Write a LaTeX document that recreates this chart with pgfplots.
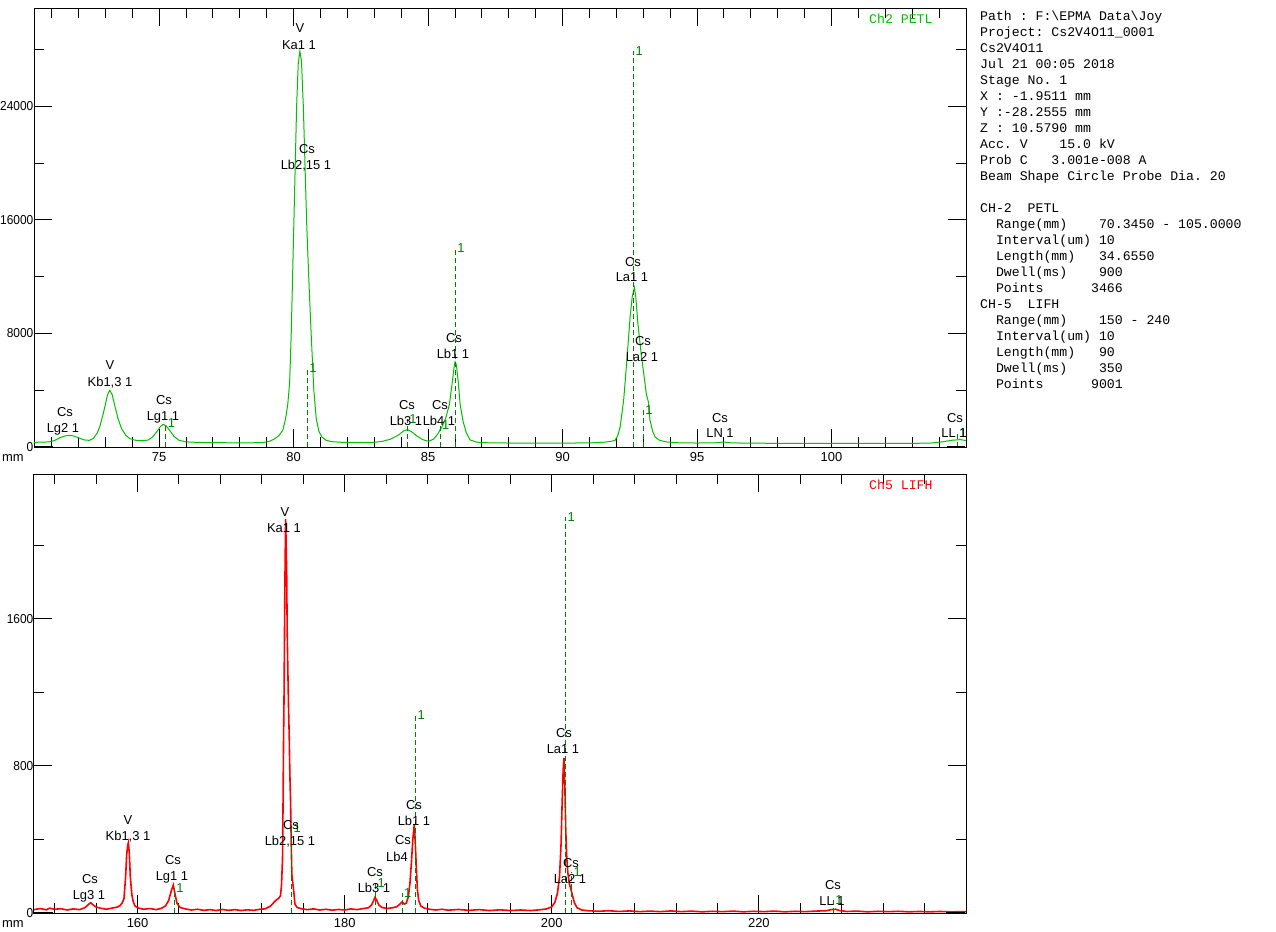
\documentclass[border=0pt]{standalone}
\usepackage{fontspec}
\setmainfont{Liberation Sans}
\newfontfamily\monofont{Liberation Mono}
\usepackage{pgfplots}
\pgfplotsset{compat=1.18}

\definecolor{spec}{HTML}{00C000}
\definecolor{klm}{HTML}{008000}
\definecolor{specred}{HTML}{FF0000}

\newcommand\lbl{\fontsize{13}{15}\selectfont}
\newcommand\mtxt{\monofont\fontsize{13.25}{16}\selectfont\frenchspacing}

\pgfplotsset{
  epma/.style={
    scale only axis, width=932bp, height=439bp,
    axis line style={line width=1bp, black},
    tick align=inside,
    major tick length=18bp, minor tick length=10bp,
    tick style={black, line width=1bp},
    ticklabel style={font=\lbl, text=black},
    yticklabel style={inner sep=0.5bp},
    yticklabel={\scalebox{0.92}[1]{\pgfmathprintnumber{\tick}}},
    xticklabel style={yshift=-2bp},
    scaled y ticks=false, scaled x ticks=false,
    /pgf/number format/1000 sep={},
    /pgf/number format/assume math mode=true,
  },
  klmlines/.style={ycomb, color=klm, draw=klm, line width=1bp, dash pattern=on 5bp off 3bp,
    nodes near coords={1}, nodes near coords align={right},
    every node near coord/.append style={font=\lbl, text=klm, inner sep=1.5bp}},
}

% peak label: centre x, centre y (pixels), text
\newcommand\pl[3]{\node[font=\lbl, inner sep=0pt, anchor=base] at (#1,#2+4.7) {#3};}
\newcommand\ml[2]{\node[font=\mtxt, inner sep=0pt, anchor=base west] at (980,16*#1+4) {#2};}

\begin{document}
\begin{tikzpicture}
\fill[white] (0,0) rectangle (1276bp,-932bp);
\path[use as bounding box] (0,0) rectangle (1276bp,-932bp);

% ---- Ch2 PETL ----
\begin{axis}[epma, at={(34bp,-447bp)}, anchor=south west,
  xmin=70.345, xmax=105, ymin=0, ymax=30940,
  xtick={75,80,85,90,95,100}, minor xtick={71,...,105},
  ytick={0,8000,16000,24000}, minor ytick={4000,12000,20000,28000}]
\addplot[color=spec, line width=1bp, mark=none] coordinates {
(70.345,330)(70.6,340)(70.9,360)(71.1,450)(71.3,650)(71.5,780)(71.65,820)(71.8,790)
(72.0,650)(72.2,500)(72.4,470)(72.55,600)(72.7,1000)(72.8,1500)(72.9,2200)(73.0,3000)
(73.08,3700)(73.16,4000)(73.25,3700)(73.35,2900)(73.47,2000)(73.6,1300)(73.75,850)
(73.9,600)(74.1,480)(74.4,440)(74.6,500)(74.75,700)(74.9,1050)(75.05,1450)(75.15,1600)
(75.25,1500)(75.4,1150)(75.55,750)(75.73,480)(76.0,360)(76.5,320)(77.0,310)(77.5,300)
(78.0,290)(78.5,300)(78.9,330)(79.1,400)(79.27,550)(79.45,800)(79.6,1200)(79.7,2000)
(79.78,3000)(79.85,4500)(79.91,8000)(79.96,12000)(80.01,16000)(80.06,20000)(80.11,24000)
(80.17,27000)(80.23,27900)(80.29,27200)(80.36,24000)(80.42,20000)(80.48,16000)
(80.56,12000)(80.65,8000)(80.75,4000)(80.84,2000)(80.94,1100)(81.05,700)(81.2,480)
(81.4,380)(81.8,330)(82.5,310)(83.0,330)(83.3,400)(83.6,550)(83.9,850)(84.1,1150)
(84.24,1230)(84.4,1050)(84.6,750)(84.8,520)(85.01,400)(85.2,550)(85.35,900)(85.51,1410)
(85.65,2000)(85.79,3000)(85.9,4600)(85.97,5700)(86.0,6000)(86.05,5800)(86.12,4600)
(86.19,3000)(86.3,1800)(86.42,1000)(86.56,500)(86.8,340)(87.2,300)(88,280)(89,280)
(90,275)(91,290)(91.5,330)(91.8,400)(91.95,470)(92.05,800)(92.14,1410)(92.27,3300)
(92.39,6120)(92.51,9180)(92.59,10600)(92.67,11250)(92.72,10600)(92.8,8710)(92.92,6590)
(93.05,4710)(93.11,3770)(93.19,3180)(93.25,1885)(93.35,1100)(93.44,706)(93.6,480)
(93.87,353)(94.3,300)(95.0,280)(95.7,300)(95.98,350)(96.3,290)(97,270)(98,260)(99,260)
(100,255)(101,250)(102,250)(103,255)(103.7,280)(104.1,360)(104.5,480)(104.8,520)(105,450)
};
\addplot[klmlines] coordinates {
(75.25,1690)(80.51,5570)(84.23,2000)(85.45,1550)(86.01,14000)(92.64,27930)(93.0,2610)(104.69,965)
};
\end{axis}

% ---- Ch5 LIFH ----
\begin{axis}[epma, at={(34bp,-913.3bp)}, anchor=south west,
  xmin=150, xmax=240, ymin=0, ymax=2384,
  xtick={160,180,200,220}, minor xtick={152,156,...,240},
  ytick={0,800,1600}, minor ytick={400,1200,2000}]
\addplot[color=specred, line width=1.6bp, mark=none] coordinates {
(150,20)(150.6,26)(151.2,19)(151.5,28)(152,22)(152.6,25)(153.2,18)(153.8,24)(154.4,20)
(154.9,30)(155.2,45)(155.47,58)(155.7,46)(156,34)(156.5,27)(157,22)(157.5,28)(158,33)
(158.3,42)(158.5,55)(158.69,80)(158.85,200)(158.95,320)(159.05,370)(159.11,383)(159.2,330)
(159.3,200)(159.45,100)(159.6,60)(159.75,40)(160.1,28)(160.6,22)(161.2,26)(161.8,20)
(162.3,27)(162.7,40)(163.0,70)(163.25,120)(163.45,154)(163.6,110)(163.8,55)(164.1,32)
(164.6,24)(165.2,18)(165.8,22)(166.4,16)(167,20)(167.6,15)(168.2,21)(168.8,16)(169.4,20)
(170,15)(170.6,19)(171.2,16)(171.8,22)(172.3,24)(172.8,38)(173.1,55)(173.4,73)(173.6,80)
(173.8,95)(173.9,150)(174.0,300)(174.05,600)(174.1,950)(174.15,1200)(174.2,1600)
(174.25,1900)(174.3,2140)(174.35,2000)(174.4,1850)(174.45,1530)(174.52,1300)(174.58,1120)
(174.65,950)(174.71,750)(174.78,600)(174.84,380)(174.9,210)(175.0,160)(175.1,110)
(175.2,50)(175.4,32)(175.8,25)(176.4,20)(177,24)(177.6,18)(178.2,22)(178.8,17)(179.4,21)
(180,18)(180.6,24)(181.2,20)(181.8,26)(182.3,30)(182.6,45)(182.8,70)(182.93,87)(183.1,70)
(183.3,45)(183.6,32)(184.1,26)(184.6,30)(185.0,35)(185.3,48)(185.56,63)(185.75,50)
(185.95,55)(186.15,90)(186.3,160)(186.45,280)(186.58,400)(186.72,480)(186.82,380)
(186.92,250)(187.02,130)(187.15,70)(187.35,40)(187.7,28)(188.2,22)(188.8,18)(189.4,22)
(190,17)(191,21)(192,16)(193,20)(194,15)(195,19)(196,15)(197,18)(198,15)(199,20)
(199.5,24)(200.0,35)(200.3,60)(200.55,110)(200.75,200)(200.9,380)(201.0,600)(201.1,780)
(201.18,842)(201.26,700)(201.35,450)(201.45,300)(201.55,220)(201.7,160)(201.85,130)
(202.0,95)(202.2,55)(202.45,30)(202.9,18)(203.5,14)(204.5,11)(205.5,14)(206.5,10)
(207.5,13)(208.5,9)(209.5,12)(210.5,9)(211.5,13)(212.5,9)(213.5,12)(214.5,8)(215.5,11)
(216.5,9)(217.5,12)(218.5,8)(219.5,11)(220.5,9)(221.5,12)(222.5,8)(223.5,11)(224.5,9)
(225.5,12)(226.5,14)(227.0,20)(227.4,22)(227.8,15)(228.5,10)(229.5,12)(230.5,8)
(231.5,11)(232.5,9)(233.5,11)(234.5,8)(235.5,10)(236.5,8)(237.5,10)(238.5,8)(240,9)
};
\addplot[klmlines] coordinates {
(163.55,136)(174.88,462)(183.0,163)(185.56,109)(186.86,1077)(201.34,2154)(201.92,224)(227.2,72)
};
\end{axis}

\begin{scope}[x=1bp, y=-1bp]
% thick zero-level marks at the axis corners
\draw[line width=2bp] (34,446.5)--(53,446.5) (947,446.5)--(965,446.5);
\draw[line width=2bp] (34,912.5)--(53,912.5) (946,912.5)--(965,912.5);
\node[font=\lbl, inner sep=0pt, anchor=base] at (13,461.5) {mm};
\node[font=\lbl, inner sep=0pt, anchor=base] at (13,927) {mm};
\node[font=\mtxt, text=spec, inner sep=0pt, anchor=base west] at (869,23) {Ch2~PETL};
\node[font=\mtxt, text=specred, inner sep=0pt, anchor=base west] at (869,489) {Ch5~LIFH};

% top panel peak labels
\pl{65}{412}{Cs} \pl{63}{428}{Lg2 1}
\pl{110}{365}{V} \pl{110}{382}{Kb1,3 1}
\pl{164}{400}{Cs} \pl{163}{416}{Lg1 1}
\pl{300}{28}{V} \pl{299}{45}{Ka1 1}
\pl{307}{149}{Cs} \pl{306}{165}{Lb2,15 1}
\pl{407}{405}{Cs} \pl{406}{421}{Lb3 1}
\pl{440}{405}{Cs} \pl{439}{421}{Lb4 1}
\pl{454}{338}{Cs} \pl{453}{354}{Lb1 1}
\pl{633}{262}{Cs} \pl{632}{277}{La1 1}
\pl{643}{341}{Cs} \pl{642}{357}{La2 1}
\pl{720}{418}{Cs} \pl{720}{433}{LN 1}
\pl{955}{418}{Cs} \pl{954}{433}{LL 1}

% bottom panel peak labels
\pl{90}{879}{Cs} \pl{89}{895}{Lg3 1}
\pl{128}{820}{V} \pl{128}{836}{Kb1,3 1}
\pl{173}{860}{Cs} \pl{172}{876}{Lg1 1}
\pl{285}{512}{V} \pl{284}{528}{Ka1 1}
\pl{291}{825}{Cs} \pl{290}{841}{Lb2,15 1}
\pl{375}{872}{Cs} \pl{374}{888}{Lb3 1}
\pl{403}{840}{Cs} \pl{397}{857}{Lb4}
\pl{414}{805}{Cs} \pl{414}{821}{Lb1 1}
\pl{564}{733}{Cs} \pl{563}{749}{La1 1}
\pl{571}{863}{Cs} \pl{570}{879}{La2 1}
\pl{833}{885}{Cs} \pl{832}{901}{LL 1}

% info block
\ml{1}{Path~:~F:\textbackslash EPMA~Data\textbackslash Joy}
\ml{2}{Project:~Cs2V4O11\_0001}
\ml{3}{Cs2V4O11}
\ml{4}{Jul~21~00:05~2018}
\ml{5}{Stage~No.~1}
\ml{6}{X~:~-1.9511~mm}
\ml{7}{Y~:-28.2555~mm}
\ml{8}{Z~:~10.5790~mm}
\ml{9}{Acc.~V~~~~15.0~kV}
\ml{10}{Prob~C~~~3.001e-008~A}
\ml{11}{Beam~Shape~Circle~Probe~Dia.~20}
\ml{13}{CH-2~~PETL}
\ml{14}{~~Range(mm)~~~~70.3450~-~105.0000}
\ml{15}{~~Interval(um)~10}
\ml{16}{~~Length(mm)~~~34.6550}
\ml{17}{~~Dwell(ms)~~~~900}
\ml{18}{~~Points~~~~~~3466}
\ml{19}{CH-5~~LIFH}
\ml{20}{~~Range(mm)~~~~150~-~240}
\ml{21}{~~Interval(um)~10}
\ml{22}{~~Length(mm)~~~90}
\ml{23}{~~Dwell(ms)~~~~350}
\ml{24}{~~Points~~~~~~9001}
\end{scope}
\end{tikzpicture}
\end{document}
